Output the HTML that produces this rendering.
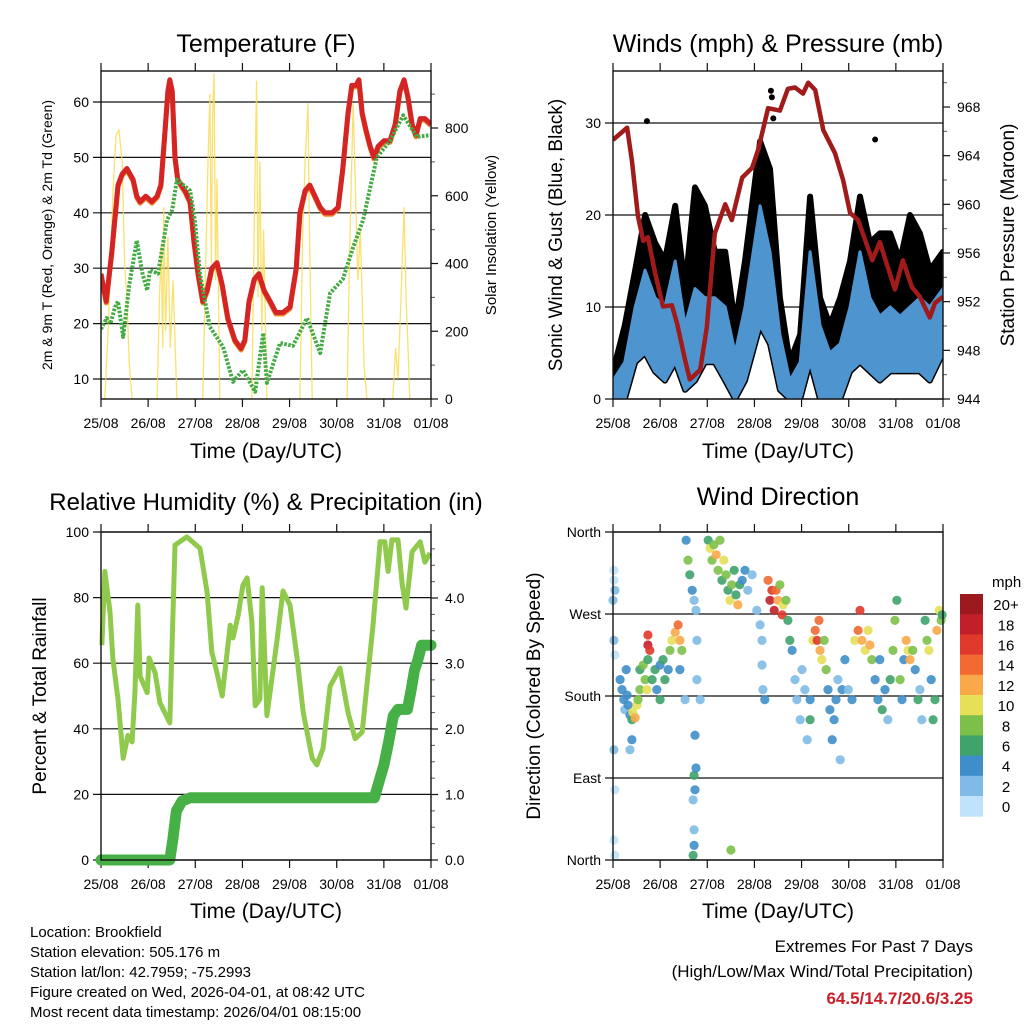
<!DOCTYPE html>
<html><head><meta charset="utf-8"><style>
html,body{margin:0;padding:0;background:#fff}
svg text{font-family:"Liberation Sans",Arial,sans-serif;fill:#000}
</style></head><body>
<svg id="fig" xmlns="http://www.w3.org/2000/svg" width="1024" height="1024" viewBox="0 0 1024 1024">
<rect x="0" y="0" width="1024" height="1024" fill="#fff"/>
<text x="266" y="52" font-size="25" text-anchor="middle">Temperature (F)</text>
<text x="778" y="52" font-size="25" text-anchor="middle">Winds (mph) &amp; Pressure (mb)</text>
<text x="266" y="510" font-size="24" text-anchor="middle">Relative Humidity (%) &amp; Precipitation (in)</text>
<text x="778" y="505" font-size="25" text-anchor="middle">Wind Direction</text>
<text transform="translate(52,235) rotate(-90)" font-size="14" text-anchor="middle">2m &amp; 9m T (Red, Orange) &amp; 2m Td (Green)</text>
<text transform="translate(496,235) rotate(-90)" font-size="15" text-anchor="middle">Solar Insolation (Yellow)</text>
<text transform="translate(562,235) rotate(-90)" font-size="19" text-anchor="middle">Sonic Wind &amp; Gust (Blue, Black)</text>
<text transform="translate(1014,235) rotate(-90)" font-size="19" text-anchor="middle">Station Pressure (Maroon)</text>
<text transform="translate(46,696) rotate(-90)" font-size="19" text-anchor="middle">Percent &amp; Total Rainfall</text>
<text transform="translate(540,696) rotate(-90)" font-size="19" text-anchor="middle">Direction (Colored By Speed)</text>
<text x="266" y="458" font-size="21" text-anchor="middle">Time (Day/UTC)</text>
<text x="778" y="458" font-size="21" text-anchor="middle">Time (Day/UTC)</text>
<text x="266" y="918" font-size="21" text-anchor="middle">Time (Day/UTC)</text>
<text x="778" y="918" font-size="21" text-anchor="middle">Time (Day/UTC)</text>
<g font-size="15">
<text x="30" y="937">Location: Brookfield</text>
<text x="30" y="957">Station elevation: 505.176 m</text>
<text x="30" y="977">Station lat/lon: 42.7959; -75.2993</text>
<text x="30" y="997">Figure created on Wed, 2026-04-01, at 08:42 UTC</text>
<text x="30" y="1017">Most recent data timestamp: 2026/04/01 08:15:00</text>
</g>
<g font-size="17" text-anchor="end">
<text x="973" y="952">Extremes For Past 7 Days</text>
<text x="973" y="977">(High/Low/Max Wind/Total Precipitation)</text>
<text x="973" y="1004" font-weight="bold" style="fill:#c8202a">64.5/14.7/20.6/3.25</text>
</g>
<g id="layer"></g>
</svg>
<script>
const dayLabels = ["25/08","26/08","27/08","28/08","29/08","30/08","31/08","01/08"];
const tempPts = [[0,29],[0.11,24],[0.23,33],[0.36,45],[0.45,47],[0.55,48],[0.68,46],[0.76,43],[0.83,42],[0.95,43],[1.08,42],[1.19,43],[1.27,45],[1.36,55],[1.42,62],[1.46,64],[1.51,62],[1.57,50],[1.63,46],[1.78,44],[1.89,42],[1.97,35],[2.06,29],[2.16,24],[2.25,26],[2.35,30],[2.46,31],[2.57,27],[2.69,21],[2.84,17],[2.97,15.5],[3.05,17],[3.14,24],[3.25,28],[3.35,29],[3.46,26],[3.59,24],[3.71,22],[3.86,22],[4.01,23],[4.14,30],[4.22,40],[4.33,44],[4.43,45],[4.54,43],[4.65,41],[4.75,40],[4.9,40],[5.03,41],[5.13,48],[5.24,58],[5.32,63],[5.41,63],[5.47,64],[5.54,58],[5.62,55],[5.71,52],[5.79,50],[5.88,52],[6.0,53],[6.13,53],[6.24,56],[6.34,62],[6.43,64],[6.51,61],[6.6,56],[6.68,54],[6.77,57],[6.87,57],[7,56]];
const dewPts = [[0,19],[0.12,21],[0.2,20],[0.3,23],[0.36,24],[0.47,17.6],[0.6,27],[0.76,35],[0.88,29],[0.98,26],[1.04,29.7],[1.21,29],[1.4,38.7],[1.51,40.5],[1.61,46],[1.89,44],[1.99,38.7],[2.1,29],[2.25,22],[2.31,19.4],[2.59,15.8],[2.8,9.5],[3.01,11.6],[3.27,7.7],[3.44,18.3],[3.52,9.3],[3.8,16.5],[4.07,16],[4.37,21],[4.65,14.7],[4.86,25.5],[5.13,28],[5.35,33.8],[5.56,38.7],[5.85,50],[6.13,53],[6.41,57.6],[6.7,53.7],[6.98,54]];
const solarPts = [[0,0],[0.08,0],[0.15,200],[0.25,600],[0.32,780],[0.38,794],[0.45,700],[0.5,400],[0.55,300],[0.6,100],[0.66,0],[1.19,0],[1.24,300],[1.28,450],[1.31,150],[1.33,566],[1.37,200],[1.42,478],[1.47,150],[1.53,350],[1.61,0],[2.16,0],[2.22,400],[2.27,700],[2.31,900],[2.34,400],[2.37,850],[2.4,960],[2.43,350],[2.46,650],[2.52,0],[3.2,0],[3.25,500],[3.3,940],[3.33,300],[3.37,700],[3.41,200],[3.45,500],[3.52,0],[4.22,0],[4.28,500],[4.33,700],[4.39,873],[4.42,500],[4.48,0],[5.22,0],[5.27,400],[5.31,650],[5.35,873],[5.4,600],[5.45,350],[5.5,500],[5.58,100],[5.64,0],[6.19,0],[6.25,150],[6.3,60],[6.35,250],[6.4,450],[6.43,566],[6.47,300],[6.5,200],[6.55,0],[7,0]];
const windDays = [0,0.25,0.47,0.68,0.89,1.1,1.32,1.53,1.74,1.95,2.16,2.38,2.59,2.8,3.12,3.33,3.54,3.75,3.97,4.18,4.39,4.6,4.82,5.03,5.24,5.45,5.66,5.88,6.09,6.3,6.51,6.72,7.0];
const gustHigh = [3,8,14,20,17,15,21,12,23,21,16,16,8,15,28,25,11,4,7,22,11,8,11,15,22,17,18,18,15,20,18,14,16];
const windHigh = [2,4,10,14,11,10,15,8,12,11,11,10,5,10,21,16,7,2,4,16,8,5,6,10,16,11,9,10,9,10,11,10,12];
const windLow = [0,0,4,5,3,2,4,1,2,4,4,2,0,2,8,6,1,0,0,4,0,0,0,3,4,3,2,3,3,3,3,2,5];
const gustOutliers = [[0.72,30.2],[5.56,28.2],[3.35,33.5],[3.37,32.8],[3.4,30.5]];
const pressurePts = [[0,965.3],[0.3,966.3],[0.4,963.6],[0.53,959],[0.64,957],[0.74,957.3],[0.89,954.4],[1.06,951.6],[1.25,951.7],[1.36,950.2],[1.53,947.2],[1.63,945.6],[1.85,946.4],[1.99,949.9],[2.16,957.6],[2.38,960],[2.52,958.7],[2.74,962.2],[2.95,963],[3.08,964.5],[3.29,967.9],[3.54,967.7],[3.71,969.5],[3.86,969.6],[4.03,969.1],[4.14,970],[4.29,969.4],[4.46,966.1],[4.71,964.2],[4.88,962],[5.03,959.3],[5.2,958.7],[5.5,955.4],[5.66,956.9],[5.98,953],[6.15,955.4],[6.34,953.2],[6.51,952.4],[6.72,950.7],[6.83,951.9],[7,952.4]];
const rhPts = [[0.02,65.5],[0.08,88],[0.19,75.6],[0.25,61.6],[0.36,49],[0.47,31],[0.57,38],[0.66,36],[0.72,51],[0.78,77.7],[0.83,56],[0.98,51],[1.02,61.6],[1.15,57],[1.25,48],[1.46,41.8],[1.57,96],[1.82,98.5],[2.1,95],[2.25,81.7],[2.35,63.4],[2.46,57],[2.57,50],[2.74,71.6],[2.8,67.7],[2.91,74.7],[3.01,83.8],[3.1,86],[3.2,72.6],[3.27,47],[3.37,49],[3.42,83],[3.52,44],[3.73,66.5],[3.86,82],[4.01,77.7],[4.16,61.6],[4.29,45],[4.48,31],[4.58,29],[4.71,34],[4.86,53],[5.07,58.5],[5.24,45],[5.39,37],[5.54,39],[5.66,56],[5.77,71.6],[5.92,97],[6.02,97],[6.09,88],[6.17,97.6],[6.3,97.6],[6.39,84],[6.47,76.8],[6.6,94],[6.77,97],[6.87,90.8],[6.98,93.6]];
const rainPts = [[0,0],[1.46,0],[1.52,0.3],[1.6,0.75],[1.72,0.9],[1.89,0.95],[5.8,0.95],[5.9,1.2],[6.0,1.45],[6.1,1.8],[6.2,2.2],[6.3,2.3],[6.5,2.3],[6.58,2.6],[6.65,2.9],[6.72,3.05],[6.8,3.28],[7,3.28]];
const speedLabels = ["0","2","4","6","8","10","12","14","16","18","20+"];
const speedColors = ["#bfe3f8","#7fbbe6","#3f8ec9","#3fa36b","#7cc04a","#e6e058","#f9a94a","#f06a32","#e0382a","#c1202a","#9c1a1e"];
const windDirObs = [[0.02,318,0],[0.02,307,0],[0.04,296,1],[0,285,2],[0.02,241,1],[0.04,225,0],[0.02,121,1],[0.04,77,0],[0.02,22,0],[0.04,5,0],
[0.15,198,3],[0.19,187,4],[0.23,176,3],[0.25,165,2],[0.3,181,4],[0.32,170,4],[0.36,159,3],[0.4,154,6],[0.42,162,10],[0.47,156,12],[0.51,170,10],[0.53,176,8],[0.57,187,8],[0.4,132,4],[0.36,121,2],[0.28,209,4],[0.57,209,6],[0.64,214,8],[0.68,198,8],[0.72,187,10],[0.74,220,6],[0.74,247,16],[0.74,236,18],[0.78,230,16],[0.83,198,6],[0.89,209,6],[0.93,187,4],[1.0,176,5],[1.0,214,4],[1.06,220,6],[1.1,198,6],[1.17,209,4],[1.21,230,8],[1.25,241,10],[1.32,250,12],[1.38,258,14],[1.42,241,12],[1.46,230,8],[1.42,209,4],[1.53,176,2],
[1.55,351,4],[1.59,329,8],[1.63,313,6],[1.68,296,4],[1.72,285,2],[1.76,274,2],[1.78,241,2],[1.78,198,2],[1.74,137,4],[1.72,93,6],[1.74,77,4],[1.7,66,2],[1.72,33,2],[1.72,16,4],[1.7,5,6],[1.76,101,4],[1.85,176,2],
[2.02,351,6],[2.06,342,10],[2.1,329,8],[2.14,346,8],[2.19,335,12],[2.23,318,8],[2.27,351,8],[2.31,307,6],[2.35,329,10],[2.4,313,8],[2.44,296,6],[2.48,285,10],[2.52,302,8],[2.57,318,6],[2.61,291,6],[2.65,280,12],[2.69,302,6],[2.74,307,4],[2.8,318,4],[2.86,296,2],[2.95,313,2],[2.5,11,8],
[3.05,274,2],[3.12,258,2],[3.16,241,2],[3.16,214,2],[3.18,187,2],[3.22,176,4],[3.29,307,14],[3.33,285,18],[3.37,296,16],[3.42,274,18],[3.46,296,14],[3.5,285,12],[3.54,302,8],[3.59,269,16],[3.61,280,10],[3.67,285,8],[3.71,263,6],
[3.75,241,6],[3.8,230,4],[3.86,198,2],[3.9,176,2],[3.97,154,2],[4.01,209,2],[4.07,187,2],[4.12,132,1],[4.18,176,4],[4.18,154,6],
[4.24,241,10],[4.29,252,14],[4.33,241,16],[4.37,263,14],[4.39,230,12],[4.43,220,10],[4.48,241,8],[4.52,209,8],[4.56,187,4],[4.6,165,4],[4.65,132,4],[4.69,154,4],[4.73,176,4],[4.77,198,2],[4.82,110,2],
[4.86,187,4],[4.92,220,4],[4.99,187,2],[5.07,176,4],[5.13,241,10],[5.2,252,14],[5.24,274,16],[5.28,241,12],[5.35,230,10],[5.41,252,10],[5.45,236,12],[5.49,220,8],
[5.56,198,4],[5.62,176,4],[5.66,220,4],[5.71,165,6],[5.77,187,4],[5.83,154,2],[5.88,198,6],[5.94,230,8],[5.98,263,8],[6.02,285,6],[6.09,198,8],[6.13,176,4],[6.17,220,4],[6.22,241,12],[6.26,230,10],[6.3,220,12],[6.36,230,8],[6.41,209,4],[6.47,176,6],[6.51,187,2],[6.55,154,2],[6.62,263,6],[6.66,241,8],[6.7,230,10],[6.75,198,4],[6.79,154,6],[6.83,176,6],[6.87,252,12],[6.92,274,10],[6.96,263,8],[6.98,269,6]];

const NS="http://www.w3.org/2000/svg";
const layer=document.getElementById('layer');
function mk(tag,attrs,parent){const e=document.createElementNS(NS,tag);for(const k in attrs)e.setAttribute(k,attrs[k]);(parent||layer).appendChild(e);return e;}
function lin(d0,d1,r0,r1){return v=>r0+(v-d0)/(d1-d0)*(r1-r0);}
function pathOf(pts,sx,sy){return pts.map((p,i)=>(i?'L':'M')+sx(p[0]).toFixed(1)+','+sy(p[1]).toFixed(1)).join(' ');}

const P1={L:101,R:431,T:71,B:399}, P2={L:613,R:943,T:71,B:399}, P3={L:101,R:431,T:532,B:860}, P4={L:613,R:943,T:532,B:860};
function frame(P,name,leftTicks,ly,rightTicks,ry,rightMinor){
  const sx=lin(0,7,P.L,P.R);
  const g=mk('g',{});
  
  
  leftTicks.forEach(t=>{
    const y=ly(t.v);
    const gl=mk('line',{x1:P.L-8,x2:P.R,y1:y,y2:y,stroke:'#111','stroke-width':1.2},g);
    
    
    const tx=mk('text',{x:P.L-12,y:y+5,'font-size':14,'text-anchor':'end'},g);
    tx.textContent=t.l;
    
    
  });
  if(rightTicks){rightTicks.forEach(t=>{
    const y=ry(t.v);
    mk('line',{x1:P.R,x2:P.R+7,y1:y,y2:y,stroke:'#111','stroke-width':1.2},g);
    const tx=mk('text',{x:P.R+14,y:y+5,'font-size':14},g);
    tx.textContent=t.l;
    
    
  });
  (rightMinor||[]).forEach(v=>{const y=ry(v);mk('line',{x1:P.R,x2:P.R+4,y1:y,y2:y,stroke:'#555','stroke-width':1},g);});}
  dayLabels.forEach((l,i)=>{
    const x=sx(i);
    mk('line',{x1:x,x2:x,y1:P.T-8,y2:P.T,stroke:'#111','stroke-width':1.2},g);
    mk('line',{x1:x,x2:x,y1:P.B,y2:P.B+8,stroke:'#111','stroke-width':1.2},g);
    const tx=mk('text',{x:x,y:P.B+29,'font-size':14,'text-anchor':'middle'},g);
    tx.textContent=l;
    
    
  });
  return sx;
}
function border(P){mk('rect',{x:P.L,y:P.T,width:P.R-P.L,height:P.B-P.T,fill:'none',stroke:'#111','stroke-width':1.4});}

// Panel 1 temperature
const tY=lin(10,60,379,102), sY=lin(0,800,399,128);
const sx1=frame(P1,'temperature',[10,20,30,40,50,60].map(v=>({v,l:String(v)})),tY,[0,200,400,600,800].map(v=>({v,l:String(v)})),sY,[100,300,500,700,900]);
const clip1=mk('clipPath',{id:'c1'});mk('rect',{x:P1.L,y:P1.T,width:P1.R-P1.L,height:P1.B-P1.T},clip1);
const g1=mk('g',{'clip-path':'url(#c1)'});
const solar=mk('path',{d:pathOf(solarPts,sx1,sY),fill:'none',stroke:'#f7d94c','stroke-width':1.3,opacity:0.8},g1);


const t9=mk('path',{d:pathOf(tempPts,sx1,v=>tY(v)+1.5),fill:'none',stroke:'#f08a2a','stroke-width':5,'stroke-linejoin':'round'},g1);


const t2=mk('path',{d:pathOf(tempPts,sx1,tY),fill:'none',stroke:'#d42424','stroke-width':5,'stroke-linejoin':'round'},g1);


const dew=mk('path',{d:pathOf(dewPts,sx1,tY),fill:'none',stroke:'#44aa44','stroke-width':4,'stroke-dasharray':'2.5 1.5','stroke-linejoin':'round'},g1);


border(P1);

// Panel 2 winds
const wY=lin(0,30,399,123), pY=lin(944,968,399,107);
const sx2=frame(P2,'winds',[0,10,20,30].map(v=>({v,l:String(v)})),wY,[944,948,952,956,960,964,968].map(v=>({v,l:String(v)})),pY,[946,950,954,958,962,966,970]);
const clip2=mk('clipPath',{id:'c2'});mk('rect',{x:P2.L,y:P2.T,width:P2.R-P2.L,height:P2.B-P2.T},clip2);
const g2=mk('g',{'clip-path':'url(#c2)'});
function band(hi,lo){const top=windDays.map((d,i)=>sx2(d).toFixed(1)+','+wY(hi[i]).toFixed(1));const bot=windDays.map((d,i)=>sx2(d).toFixed(1)+','+wY(lo[i]).toFixed(1)).reverse();return top.concat(bot).join(' ');}
const gb=mk('polygon',{points:band(gustHigh,windLow),fill:'#000',stroke:'#000','stroke-width':6,'stroke-linejoin':'round'},g2);


gustOutliers.forEach(p=>{const c=mk('circle',{cx:sx2(p[0]),cy:wY(p[1]),r:3,fill:'#000'},g2);

});
const wb=mk('polygon',{points:band(windHigh,windLow),fill:'#4e95d0',stroke:'#4e95d0','stroke-width':3,'stroke-linejoin':'round'},g2);


const pr=mk('path',{d:pathOf(pressurePts,sx2,pY),fill:'none',stroke:'#a11b1b','stroke-width':4.5,'stroke-linejoin':'round'},g2);


border(P2);

// Panel 3 RH & rain
const hY=lin(0,100,860,532), rY=lin(0,4,860,598);
const sx3=frame(P3,'humidity',[0,20,40,60,80,100].map(v=>({v,l:String(v)})),hY,[0,1,2,3,4].map(v=>({v,l:v.toFixed(1)})),rY,[0.25,0.5,0.75,1.25,1.5,1.75,2.25,2.5,2.75,3.25,3.5,3.75,4.25,4.5,4.75]);
const rh=mk('path',{d:pathOf(rhPts,sx3,hY),fill:'none',stroke:'#8fca4c','stroke-width':5,'stroke-linejoin':'round'},layer);


const rn=mk('path',{d:pathOf(rainPts,sx3,rY),fill:'none',stroke:'#46b046','stroke-width':11,'stroke-linejoin':'round','stroke-linecap':'round'},layer);


border(P3);

// Panel 4 wind direction
const dY=lin(0,360,860,532);
const sx4=frame(P4,'direction',[{v:0,l:'North'},{v:90,l:'East'},{v:180,l:'South'},{v:270,l:'West'},{v:360,l:'North'}],dY);
windDirObs.forEach(o=>{
  const bin=Math.min(10,Math.round(o[2]/2));
  const c=mk('circle',{cx:sx4(o[0]).toFixed(1),cy:dY(o[1]).toFixed(1),r:4.6,fill:speedColors[bin],opacity:0.9});
  
  
});
border(P4);

// colorbar
const cbTop=594, cbH=20.2;
const unit=mk('text',{x:992,y:587,'font-size':15});
unit.textContent='mph';


speedLabels.slice().reverse().forEach((l,i)=>{
  const col=speedColors[10-i];
  const r=mk('rect',{x:960,y:cbTop+i*cbH,width:23,height:cbH+0.5,fill:col});
  
  
  const t=mk('text',{x:1006,y:cbTop+i*cbH+cbH/2+6,'font-size':15,'text-anchor':'middle'});
  t.textContent=l;
  
  
});
</script>
</body></html>
